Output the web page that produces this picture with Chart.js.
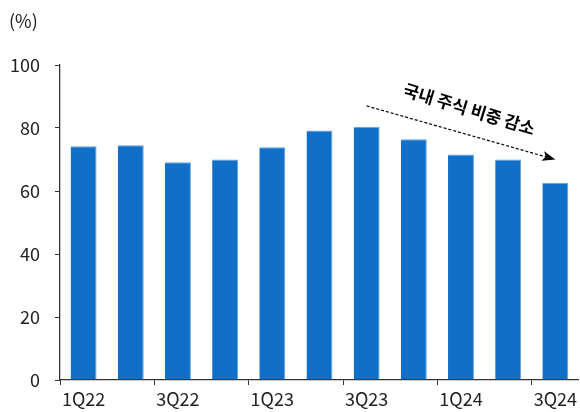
<!DOCTYPE html>
<html>
<head>
<meta charset="utf-8">
<script src="https://cdn.jsdelivr.net/npm/chart.js@4"></script>
<style>
  html, body { margin: 0; padding: 0; background: #fff; }
  #wrap { width: 580px; height: 412px; }
</style>
</head>
<body>
<div id="wrap"><canvas id="chart"></canvas></div>
<script>
// Quarterly share (%) of domestic equities
const quarters = ["1Q22", "2Q22", "3Q22", "4Q22", "1Q23", "2Q23", "3Q23", "4Q23", "1Q24", "2Q24", "3Q24"];
const shares = [74.2, 74.5, 69.1, 70.0, 73.9, 79.2, 80.4, 76.4, 71.6, 70.0, 62.6];
const yTicks = [0, 20, 40, 60, 80, 100];

// Trend arrow: from above bar 3Q23 down to above bar 3Q24
const trendLabel = "국내 주식 비중 감소";
const trendFrom = { index: 6, value: 87 };
const trendTo = { index: 10, value: 70 };

const FONT = "'Noto Sans CJK KR', 'Noto Sans', sans-serif";
const AXIS = "#333333";

const annotations = {
  id: "annotations",
  afterDraw(chart) {
    const { ctx, scales } = chart;
    const x = scales.x, y = scales.y;

    // unit label
    ctx.save();
    ctx.fillStyle = "#222";
    ctx.font = "18px " + FONT;
    ctx.textBaseline = "middle";
    ctx.fillText("(%)", 9, 21);

    // dashed trend arrow
    const x1 = x.getPixelForValue(trendFrom.index), y1 = y.getPixelForValue(trendFrom.value);
    const x2 = x.getPixelForValue(trendTo.index), y2 = y.getPixelForValue(trendTo.value);
    const ang = Math.atan2(y2 - y1, x2 - x1);
    ctx.strokeStyle = "#000";
    ctx.lineWidth = 1.2;
    ctx.setLineDash([3, 2]);
    ctx.beginPath();
    ctx.moveTo(x1, y1);
    ctx.lineTo(x2 - 9 * Math.cos(ang), y2 - 9 * Math.sin(ang));
    ctx.stroke();
    ctx.setLineDash([]);
    ctx.fillStyle = "#000";
    ctx.translate(x2, y2);
    ctx.rotate(ang);
    ctx.beginPath();
    ctx.moveTo(0, 0);
    ctx.lineTo(-13, -5);
    ctx.lineTo(-10, 0);
    ctx.lineTo(-13, 5);
    ctx.closePath();
    ctx.fill();
    ctx.restore();

    // rotated caption above the arrow
    ctx.save();
    const mx = (x1 + x2) / 2, my = (y1 + y2) / 2;
    ctx.translate(mx, my);
    ctx.rotate(ang + 0.02);
    ctx.font = "bold 17px " + FONT;
    ctx.fillStyle = "#000";
    ctx.textAlign = "center";
    ctx.textBaseline = "middle";
    ctx.fillText(trendLabel, 1, -25);
    ctx.restore();
  }
};

new Chart(document.getElementById("chart"), {
  type: "bar",
  data: {
    labels: quarters,
    datasets: [{
      data: shares,
      backgroundColor: "#126fc7",
      borderColor: "#5f9fdd",
      borderWidth: { top: 1, right: 1, left: 0, bottom: 0 },
      barPercentage: 0.55,
      categoryPercentage: 1
    }]
  },
  options: {
    responsive: true,
    maintainAspectRatio: false,
    animation: false,
    layout: { padding: { top: 65, right: 0, left: 0, bottom: 0 } },
    plugins: { legend: { display: false }, tooltip: { enabled: false } },
    scales: {
      x: {
        offset: true,
        grid: {
          offset: true,
          drawOnChartArea: false,
          drawTicks: true,
          tickLength: 5,
          tickColor: (c) => (c.index % 2 === 0 ? AXIS : "rgba(0,0,0,0)")
        },
        border: { display: true, color: AXIS, width: 1.3 },
        ticks: {
          autoSkip: false,
          maxRotation: 0,
          padding: 3,
          color: "#222",
          font: { family: FONT, size: 18 },
          callback: (v, i) => (i % 2 === 0 ? quarters[i] : "")
        },
        afterFit: (s) => { s.height = 32; }
      },
      y: {
        min: 0,
        max: 100,
        afterBuildTicks: (s) => { s.ticks = yTicks.map((v) => ({ value: v })); },
        grid: { drawOnChartArea: false, drawTicks: true, tickLength: 5, tickColor: AXIS },
        border: { display: true, color: AXIS, width: 1.3 },
        ticks: {
          padding: 15,
          color: "#222",
          font: { family: FONT, size: 18 }
        },
        afterFit: (s) => { s.width = 60; }
      }
    }
  },
  plugins: [annotations]
});
</script>
</body>
</html>
